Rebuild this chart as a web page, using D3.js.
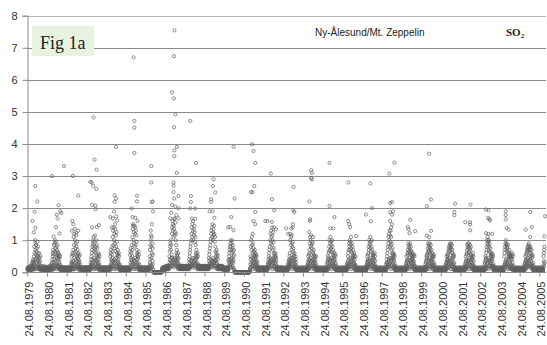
<!DOCTYPE html>
<html><head><meta charset="utf-8">
<script src="https://cdn.jsdelivr.net/npm/d3@7/dist/d3.min.js"></script>
<style>body{margin:0;background:#fff} svg{display:block}</style>
</head><body>
<svg id="c" width="547" height="345"></svg>
<script>
// ---- DATA ----
// Each season starts 24.08 of its year; one code per 3 days.
// code = base-36 digit, value = digit * 0.05
const seasonYears = [1979,1980,1981,1982,1983,1984,1985,1986,1987,1988,1989,1990,1991,1992,1993,1994,1995,1996,1997,1998,1999,2000,2001,2002,2003,2004,2005];
const seasonCodes = [
 "2322132231223213242312213"+"324253617243826"+"5a2g7c3k4e8i2b6h3d9f2a5j4c7g"+"3a5826c3927241a324"+"232132212322313224213221323122132132",
 "3223122321322413221322312"+"243526183a4c2e3"+"6b3h8d2i5k4f7c3j6a2g9e4b3h5d"+"8c4a3926b3825a2413"+"223121322312132231221321322132213122",
 "2213231223122132231321223"+"325273a4615c3b2"+"7e3m5h2o9c4k6f3i8d2n5g3a7j4e"+"9b3c5826a4731b2532"+"312213221322312213231221322132231213",
 "2231322132213122313221322"+"426384a5c3e6g2i"+"8k3h6m4d9f2j7n3c5e8g2k4b7h3f"+"6a4935c2826b3a1423"+"221322312213221321322312213223122132",
 "3221322312213221322312132"+"3a4c5e3827b4g6d"+"9m4q7h3s5k2o8f6i3r7d4n9g2p5j"+"c4a7e3b6825c3a4325"+"213223122132213231221322132213221321",
 "2132231221322132213221312"+"2b4d6f3928c5h7e"+"am3r6u4k8p2i5t7g3o9s4h6q2n8j"+"e5b8c3a6924d3b2531"+"322132213122312213221322312213221322",
 "2231322132213122313221322"+"4a6e3h8k5n2g9m4"+"c3i7f5b200000000000000000000"+"000000000000000000"+"000000000000000023122132213221322312",
 "3243223432234324233423243"+"4a6d8g5i3k7e9h4"+"bo6s9w4q8u5m7t3r6x9n4p8v5k7o"+"h6c9e4b7a3826c4935"+"342332433423324234332423342332432334",
 "3423324233432234232433242"+"3826a4c5e3g7i4k"+"7o4s8m5u3q9w6k4r7n5t8p3j6m9h"+"c5a8e3b6924c3a5234"+"332423342332432334234233243324233423",
 "3324233423324233423243324"+"4927b5d3f6h8j4l"+"8o5q3s7m6u4k9p5r7n3t6o8j4m7g"+"d4a7c3e6925b3a4823"+"243324233423243324233423243223212321",
 "2132212321322132213221321"+"3728a4c6e5g8i3k"+"5g8e3i6c9k4f7h3d6a8e2b100010"+"000000000000000000"+"000000000000000000000000000000000000",
 "0000000000000000000000000"+"000000000001213"+"5a8g3k6e9m4h7c2o5i8f3d6b4a7e"+"9c3a6825b4a3726314"+"213221322131221322132213122132213213",
 "2132213221312213221322132"+"3526384a5c7e4g6"+"9k3o6i8q4m7h5n2k8e6p3j9f4c7a"+"b4826c3a5937241322"+"213221321322132213122132213213221321",
 "1212213121221312122131212"+"2314253627384a5"+"c7k4o6h9m3e8n5i2g7j4d9f3b6a8"+"4c3725a38262413212"+"121221312122131212213121221312122131",
 "2121312122131212213121221"+"3142536a4728b3c"+"e5i8m3k6g9n4h7f2j5d8i3c6a4e7"+"b3826a4937251a3241"+"212213121221312122131212213121221312",
 "1221312122131212213121221"+"3152637a4829c3d"+"g6k4e8i3m7f5j2h9d6k4g8c3e5b7"+"a4937c2825b3a62413"+"122131212213121221312122131212213121",
 "2131212213121221312122131"+"2142536274a3c5e"+"8i4g6k3e9j5h7m2f8d4i6c3g9a5e"+"7b3926c4a8352a1432"+"121221312122131212213121221312122131",
 "1212213121221312122131212"+"3142536a7384b5c"+"g3e7k5i8h4m6f2j9d5g3k7e4c8b6"+"a3926b4825c3a71423"+"212213121221312122131212213121221312",
 "2121312122131212213121221"+"3152638a4c6e3g5"+"i7m4o8k5q3g9n6j2h8m4e7i5c9f3"+"b6a8c3927b4a352413"+"121221312122131212213121221312122131",
 "1221312122131212213121221"+"2142536a4728b3c"+"e6i3g8d5h2f9c4i7e3g6b8d5a4c7"+"9b3826a4735b2a1423"+"212213121221312122131212213121221312",
 "2131212213121221312122131"+"2152637a4829b3c"+"f5i3d8h6e2g9c5i4f7d3h6b8e4a7"+"c4925a3826b3a41532"+"121221312122131212213121221312122131",
 "1212213121221312122131212"+"2132415263a4728"+"4b6a8c3e7g5d9f3h6i4e8g2i5f7c"+"h4e8c6a3925b4a2613"+"212213121221312122131212213121221312",
 "2121312122131212213121221"+"3142536a4728b3c"+"e5h3i7f4g8c6i2d9f5h3e7b6g4a8"+"b3926a4825c3a71423"+"121221312122131212213121221312122131",
 "1221312122131212213121221"+"3152637a4829c3e"+"g5k3i8m6h2j9e4k7g3i6d8f4c7a5"+"b4a8c3927b4a352413"+"212213121221312122131212213121221312",
 "2131212213121221312122131"+"3a4c5e6g3i7k5h8"+"e4i6g3f8d5h2c7b4a9e3c6a2b5a8"+"3a4925c2836b2a1423"+"121221312122131212213121221312122131",
 "1212213121221312122131212"+"2132415263a4728"+"5b7c3e6d8g4f9h3e6i4g7c5f8a4e"+"g3c7a5e4925b3a2614"+"212213121221312122131212213121221312",
 "2121312122131212213121221"+"3a5c7e4g6"
];
// Isolated high values: [decimal year] and [value]
const peakYears = [1979.91,1980.01,1980.05,1980.15,1980.05,1979.97,
 1980.90,1981.50,1981.23,1981.14,1981.32,1981.37,1981.18,1981.10,1980.98,1981.28,
 1981.96,1982.23,1981.93,1981.98,1981.90,1982.23,1982.13,1982.06,
 1983.01,1983.06,1983.16,1982.84,1982.91,1982.99,1983.15,1983.10,1983.11,1982.94,1983.18,1983.28,1982.93,
 1984.15,1984.08,1984.15,1984.08,1984.05,1983.86,1983.99,1984.16,1984.21,1984.11,1983.94,
 1985.04,1985.08,1985.08,1985.08,1985.21,1985.21,1984.94,1985.13,1985.24,1984.99,1985.02,
 1985.94,1985.94,1985.97,1986.00,1986.03,1985.97,1985.91,
 1987.12,1987.09,1986.99,1987.09,1987.16,1987.09,1987.24,1987.11,1987.11,1987.24,1987.07,1987.07,1987.07,1987.11,1987.32,1987.00,1987.16,1987.32,1986.90,1987.11,1987.32,1986.95,1987.21,
 1987.92,1988.21,1987.95,1987.95,1987.92,1988.17,1988.00,1988.17,
 1989.10,1989.07,1989.19,1988.98,1988.98,1988.90,1989.05,1989.14,
 1990.12,1990.17,1989.95,1990.12,1990.00,1989.85,
 1991.05,1991.13,1991.22,1991.17,1991.00,1991.08,1991.22,1991.13,1991.22,
 1992.01,1992.07,1992.18,1991.73,1991.84,1992.07,1992.18,1992.07,
 1993.16,1993.15,1993.20,1993.13,1993.13,1992.27,1992.79,1993.05,1992.89,
 1994.06,1994.10,1994.06,1994.10,1993.97,1993.99,1994.01,1993.96,1994.15,
 1994.99,1994.99,1995.24,1995.03,1995.18,
 1995.95,1995.94,1995.99,1996.04,1996.35,
 1997.06,1997.14,1996.84,1997.09,
 1998.03,1998.29,1998.07,1998.16,1998.07,1998.16,1998.07,1998.16,1998.12,1998.10,1998.22,
 1999.00,1999.05,1999.09,1998.97,1999.34,
 2000.05,2000.14,1999.93,2000.15,1999.93,2000.05,
 2001.37,2001.33,2001.33,
 2002.15,2001.88,2002.13,2002.13,2002.13,
 2002.94,2003.06,2003.05,2003.10,2003.15,2002.94,2003.06,2003.25,
 2003.94,2003.94,2003.94,2003.99,2004.08,
 2005.18,2004.96,2005.26,2005.18,
 2005.94,2005.90];
const peakValues = [1.6,1.89,2.69,2.21,1.39,1.25,
 3.0,3.31,2.09,1.8,1.9,1.85,1.68,1.41,1.12,1.21,
 3.0,2.39,1.6,1.5,1.3,1.3,1.22,1.35,
 4.83,3.51,3.2,2.82,2.8,2.7,2.6,2.08,1.97,2.1,1.41,1.47,1.4,
 3.91,2.4,2.3,2.2,1.89,1.72,1.68,1.74,1.62,1.5,1.4,
 6.7,4.72,4.51,3.72,2.39,2.21,1.99,1.7,1.6,1.72,1.45,
 3.31,2.8,2.19,2.21,1.9,1.5,1.3,
 7.54,6.74,5.61,5.42,4.92,4.52,3.91,3.8,3.62,3.1,2.8,2.7,2.5,2.3,2.38,2.1,2.05,2.0,1.68,1.68,1.68,1.85,1.78,
 4.72,3.41,2.38,2.19,1.99,1.99,1.67,1.67,
 2.9,2.69,2.49,2.28,2.2,1.9,1.9,1.7,
 3.91,2.3,1.41,1.31,1.72,1.4,
 3.99,3.78,3.41,2.69,2.5,2.5,1.88,1.6,1.5,
 3.08,2.28,1.93,1.6,1.6,1.4,1.4,1.57,
 2.66,1.93,1.88,1.5,1.4,1.34,1.37,1.37,1.2,
 3.18,3.1,2.94,2.9,2.21,1.6,1.65,1.26,1.1,
 3.41,2.07,1.72,1.37,1.37,
 2.8,1.6,1.5,1.41,1.13,
 2.77,2.0,1.8,1.59,
 3.08,3.42,2.16,2.19,1.87,1.8,1.6,1.5,1.4,1.3,1.9,
 1.34,1.22,1.64,1.41,1.28,
 3.7,2.27,2.06,1.29,1.15,1.09,
 2.14,1.88,1.78,
 2.11,1.56,1.56,1.49,1.31,
 1.96,1.93,1.7,1.65,1.62,1.22,1.2,1.2,
 1.9,1.78,1.65,1.38,1.33,
 1.88,1.33,1.41,1.1,
 1.75,1.12];
const tickYears = [1979,1980,1981,1982,1983,1984,1985,1986,1987,1988,1989,1990,1991,1992,1993,1994,1995,1996,1997,1998,1999,2000,2001,2002,2003,2004,2005];
const yTicks = [0,1,2,3,4,5,6,7,8];
const stationLabel = "Ny-Ålesund/Mt. Zeppelin";
const figLabel = "Fig 1a";

// ---- BUILD ----
const DAY = 864e5;
const points = [];
seasonCodes.forEach((s, k) => {
  const start = Date.UTC(seasonYears[k], 7, 24);
  for (let i = 0; i < s.length; i++) {
    points.push({ d: new Date(start + i * 3 * DAY), v: parseInt(s[i], 36) * 0.05 });
  }
});
peakYears.forEach((yr, i) => {
  const y0 = Math.floor(yr);
  const t = Date.UTC(y0, 0, 1) + (yr - y0) * 365.25 * DAY;
  points.push({ d: new Date(t), v: peakValues[i] });
});

const svg = d3.select("#c");
const x = d3.scaleUtc()
  .domain([new Date(Date.UTC(1979, 7, 24)), new Date(Date.UTC(2005, 7, 24))])
  .range([27.3, 539.3]);
const y = d3.scaleLinear().domain([0, 8]).range([272.3, 15.7]);
const xRight = 546;

// gridlines
svg.append("g").selectAll("line").data(yTicks.filter(t => t > 0)).join("line")
  .attr("x1", 27.3).attr("x2", xRight)
  .attr("y1", d => Math.round(y(d)) + 0.5).attr("y2", d => Math.round(y(d)) + 0.5)
  .attr("stroke", d => d === 8 ? "#b8b8b8" : "#8a8a8a").attr("stroke-width", 1);

// y axis
const yAx = svg.append("g").attr("transform", "translate(27.5,0)")
  .call(d3.axisLeft(y).tickValues(yTicks).tickSize(5).tickPadding(5).tickFormat(d3.format("d")));
yAx.select(".domain").attr("stroke", "#8a8a8a");
yAx.selectAll(".tick line").attr("stroke", "#8a8a8a");
yAx.selectAll("text").attr("font-family", "Liberation Sans, Arial, sans-serif")
  .attr("font-size", 11).attr("fill", "#333");

// points
svg.append("g").selectAll("circle").data(points).join("circle")
  .attr("cx", d => x(d.d)).attr("cy", d => y(d.v)).attr("r", 1.6)
  .attr("fill", "none").attr("stroke", "#5e5e5e").attr("stroke-width", 0.7);

// x axis
const fmt = d3.utcFormat("%d.%m.%Y");
const xAx = svg.append("g").attr("transform", `translate(0,${Math.round(y(0)) + 0.5})`)
  .call(d3.axisBottom(x).tickValues(tickYears.map(yr => new Date(Date.UTC(yr, 7, 24))))
    .tickSize(4).tickFormat(fmt));
xAx.select(".domain").attr("stroke", "#8a8a8a").attr("d", `M27.3,0H${xRight}`);
xAx.selectAll(".tick line").attr("stroke", "#8a8a8a");
xAx.selectAll("text")
  .attr("font-family", "Liberation Sans, Arial, sans-serif").attr("font-size", 11).attr("fill", "#333")
  .attr("transform", "rotate(-90)").attr("text-anchor", "end")
  .attr("x", -9).attr("y", 0).attr("dy", "0.5em");

// labels
svg.append("rect").attr("x", 32).attr("y", 26).attr("width", 62).attr("height", 30).attr("fill", "#e7f2e1");
svg.append("text").attr("x", 40).attr("y", 49).text(figLabel)
  .attr("font-family", "Liberation Serif, Times New Roman, serif").attr("font-size", 18).attr("fill", "#222");
svg.append("text").attr("x", 315).attr("y", 35.5).text(stationLabel)
  .attr("font-family", "Liberation Sans, Arial, sans-serif").attr("font-size", 10).attr("fill", "#222");
const so = svg.append("text").attr("x", 506).attr("y", 35.5)
  .attr("font-family", "Liberation Serif, Times New Roman, serif").attr("font-size", 11)
  .attr("font-weight", "bold").attr("fill", "#222");
so.append("tspan").text("SO");
so.append("tspan").attr("font-size", 7).attr("dy", 2).text("2");
</script>
</body></html>
